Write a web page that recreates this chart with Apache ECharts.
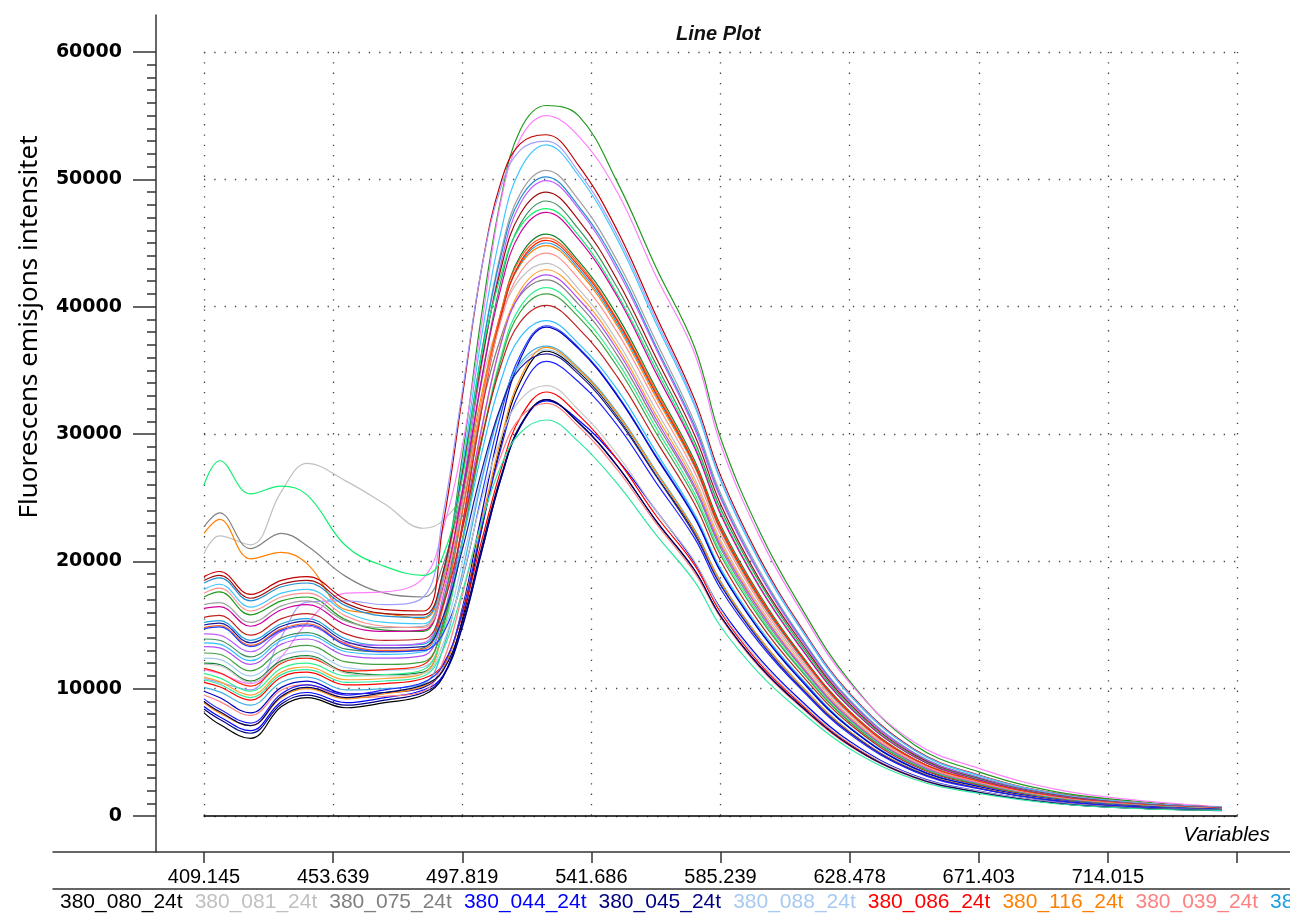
<!DOCTYPE html>
<html>
<head>
    <meta charset="utf-8">
    <title>Line Plot</title>
    <script src="https://cdn.jsdelivr.net/npm/echarts@6.0.0/dist/echarts.min.js"></script>
    <style>
        html, body { margin: 0; padding: 0; background: #fff; }
    </style>
</head>
<body>
    <div id="container" style="width: 1290px;height:917px;"></div>
    <script type="text/javascript">
        // variable position (10 units = one labelled tick step)
        var xs = [0, 1.2, 3.6, 6, 8, 11, 14, 17, 18.5, 20, 21.5, 23, 24.5, 26.5, 29, 32, 35, 38, 40, 43, 46, 50, 55, 60, 66, 72, 78.8];
        var tickLabels = ['409.145', '453.639', '497.819', '541.686', '585.239', '628.478', '671.403', '714.015', ''];
        var yTicks = [0, 10000, 20000, 30000, 40000, 50000, 60000];

        var names = ['380_080_24t', '380_081_24t', '380_075_24t', '380_044_24t', '380_045_24t', '380_088_24t',
            '380_086_24t', '380_116_24t', '380_039_24t', '380_087_24t',
            '380_052_24t', '380_041_24t', '380_077_24t', '380_090_24t', '380_047_24t', '380_083_24t', '380_058_24t',
            '380_112_24t', '380_061_24t', '380_094_24t', '380_036_24t', '380_070_24t', '380_049_24t', '380_104_24t',
            '380_066_24t', '380_085_24t', '380_043_24t', '380_119_24t', '380_072_24t', '380_057_24t', '380_098_24t',
            '380_038_24t', '380_063_24t', '380_109_24t', '380_050_24t', '380_079_24t', '380_091_24t', '380_046_24t',
            '380_068_24t', '380_101_24t', '380_055_24t'];
        var colors = ['#000000', '#c0c0c0', '#808080', '#0000ff', '#000080', '#a6caf0', '#ff0000', '#ff8000', '#ff8080', '#1a9fe0',
            '#1f9a1f', '#ff80ff', '#c00000', '#a0a0ff', '#40c8ff', '#a0a0a0', '#2090d0', '#c060ff', '#a01010', '#409060',
            '#10f070', '#d000a0', '#108030', '#ff6020', '#ff2000', '#ff9090', '#ffa030', '#b050f0', '#30f090', '#40a040',
            '#c02020', '#30c0ff', '#2040ff', '#0000c0', '#40b0e0', '#ff9010', '#1a1a9a', '#2020ff', '#c8c8c8', '#000060',
            '#30e8a0'];

        var v01 = [8100,7200,6100,8600,9300,8500,8900,9500,10900,15400,22500,29200,34100,36500,34900,31400,26800,22300,18250,13900,10400,6600,3580,2190,1200,730,470];
        var v02 = [20600,22000,21300,25500,27700,26300,24500,22600,23200,25500,34000,39200,42200,43400,41400,37300,31900,26500,21700,16500,12400,7800,4250,2600,1430,870,560];
        var v03 = [22700,23800,21000,22200,21200,18800,17500,17200,19700,25400,32100,37600,40900,42100,40200,36200,30900,25700,21050,16000,12000,7580,4130,2530,1390,840,550];
        var v04 = [8600,7800,6700,9000,9700,8900,9300,9900,11000,14900,20800,26500,30600,32600,31100,28000,24000,19900,16300,12400,9290,5870,3190,1960,1080,650,420];
        var v05 = [8400,7600,6500,8800,9500,8700,9100,9700,10900,14800,20700,26500,30600,32700,30900,27500,23200,19300,15700,11800,8830,5560,3040,1860,1010,620,460];
        var v06 = [12400,12300,11000,12550,12950,11650,11450,11700,14200,19900,26600,32100,35400,36600,35000,31500,26900,22400,18300,13900,10430,6590,3590,2200,1210,730,480];
        var v07 = [10500,10150,9100,10900,11300,10300,10400,10800,11900,15800,21600,27200,31300,33300,31500,28000,23600,19700,16000,12000,8990,5660,3100,1900,1030,630,470];
        var v08 = [22200,23300,20200,20700,19800,16200,15900,15500,18400,25200,33100,39500,43300,44800,42800,38500,32900,27400,22400,17000,12800,8060,4390,2690,1480,900,580];
        var v09 = [9500,9000,7900,9900,10300,9300,9400,9800,12100,17300,23400,28300,31300,32400,30600,27200,23000,19100,15600,11700,8750,5510,3010,1850,1000,620,450];
        var v10 = [15200,15350,13800,15100,15500,13900,13400,13500,16700,23900,32400,39300,43400,45000,43000,38700,33100,27500,22500,17100,12800,8100,4410,2700,1490,900,590];
        var v11 = [17200,17600,15800,16900,17200,15400,14600,14500,18700,28200,39400,48500,53900,55800,55000,49800,43100,36800,29700,22400,16800,10600,5600,3470,1900,1180,670];
        var v12 = [11500,11200,10400,12500,15200,17500,17600,18700,22500,29000,38600,48300,53200,55000,53400,49000,42400,36300,29200,22000,16500,10450,5800,3740,2090,1270,720];
        var v13 = [18800,19200,17400,18500,18800,17000,16200,16100,22800,32900,43000,49800,52800,53500,51100,46000,39300,32700,26750,20300,15200,9630,5240,3210,1770,1070,700];
        var v14 = [10800,10500,9900,14100,16800,16900,16600,17200,23600,33300,43000,49400,52300,53000,50600,45600,39000,32400,26500,20100,15100,9540,5190,3180,1750,1060,690];
        var v15 = [17800,18200,16400,17500,17800,16000,15200,15100,18900,27500,37700,45900,50800,52700,50300,45300,38700,32200,26350,20000,15000,9490,5160,3160,1740,1050,690];
        var v16 = [16600,16750,15200,16500,16900,15300,14800,14900,18500,26700,36400,44300,48900,50700,48400,43600,37300,30900,25350,19300,14400,9130,4970,3040,1670,1010,660];
        var v17 = [18300,18700,16900,18000,18300,16500,15700,15600,19100,27000,36400,44000,48500,50200,47900,43200,36900,30600,25100,19100,14300,9040,4920,3010,1660,1000,650];
        var v18 = [14300,14200,12900,14500,14900,13600,13400,13600,17200,25600,35400,43400,48100,49900,47700,42900,36700,30400,24950,19000,14200,8980,4890,2990,1650,1000,650];
        var v19 = [18500,18900,17100,18200,18500,16700,15900,15800,19100,26800,35700,43000,47300,49000,46800,42100,36000,29900,24500,18600,14000,8820,4800,2940,1620,980,640];
        var v20 = [13900,13800,12500,14000,14400,13100,12900,13200,16700,24800,34300,42000,46500,48300,46100,41500,35500,29400,24150,18400,13800,8690,4730,2900,1590,970,630];
        var v21 = [26000,27900,25300,25900,25200,21200,19600,18900,20400,26500,36200,42500,46300,47700,45600,41000,35100,29100,23850,18100,13600,8590,4670,2860,1570,950,620];
        var v22 = [16300,16450,14900,16200,16600,15000,14500,14600,17900,25400,34300,41500,45800,47400,45300,40800,34800,28900,23700,18000,13500,8530,4650,2840,1560,950,620];
        var v23 = [12000,11900,10600,12200,12600,11300,11100,11300,14700,22700,31900,39500,44000,45700,43600,39300,33600,27900,22850,17400,13000,8230,4480,2740,1510,910,590];
        var v24 = [14800,14950,13400,14700,15100,13500,13000,13100,16300,23800,32500,39600,43800,45400,43400,39000,33400,27700,22700,17300,12900,8170,4450,2720,1500,910,590];
        var v25 = [11600,11250,10200,12000,12400,11400,11500,11900,15200,22900,31900,39200,43500,45200,43200,38900,33200,27600,22600,17200,12900,8140,4430,2710,1490,900,590];
        var v26 = [17500,17900,16100,17200,17500,15700,14900,14800,17700,24500,32400,38900,42700,44200,42200,38000,32500,27000,22100,16800,12600,7960,4330,2650,1460,880,570];
        var v27 = [10900,10550,9500,11300,11700,10700,10800,11200,14400,21700,30200,37200,41300,42900,41000,36900,31500,26200,21450,16300,12200,7720,4200,2570,1420,860,560];
        var v28 = [13300,13200,11900,13500,13900,12600,12400,12600,15600,22500,30500,37100,41000,42500,40600,36600,31200,25900,21250,16200,12100,7650,4170,2550,1400,850,550];
        var v29 = [11200,10850,9800,11600,12000,11000,11100,11500,14500,21400,29500,36100,40000,41500,39600,35700,30500,25300,20750,15800,11800,7470,4070,2490,1370,830,540];
        var v30 = [12800,12700,11400,13000,13400,12100,11900,12100,15000,21600,29400,35800,39600,41000,39200,35300,30100,25000,20500,15600,11700,7380,4020,2460,1350,820,530];
        var v31 = [15600,15750,14200,15500,15900,14300,13800,13900,16500,22500,29600,35400,38800,40100,38300,34500,29500,24500,20050,15200,11400,7220,3930,2410,1320,800,520];
        var v32 = [13600,13500,12200,13800,14200,12900,12700,12900,15500,21500,28500,34200,37600,38900,37100,33500,28600,23700,19450,14800,11100,7000,3810,2330,1280,780,510];
        var v33 = [14700,14850,13300,14600,15000,13400,12900,13000,14300,18600,25200,31600,36200,38500,36800,33100,28300,23500,19250,14600,11000,6930,3770,2310,1270,770,500];
        var v34 = [9800,9300,8100,10100,10600,9600,9700,10100,11500,16300,23700,30800,35900,38400,36700,33000,28200,23400,19200,14600,10900,6910,3760,2300,1270,770,500];
        var v35 = [10100,9750,8700,10500,10900,9900,10000,10400,13100,19100,26300,32100,35600,36900,35200,31700,27100,22500,18450,14000,10500,6640,3620,2210,1220,740,480];
        var v36 = [8900,8100,7100,9300,10000,9200,9600,10200,11500,16100,23000,29600,34400,36800,35100,31600,27000,22400,18400,14000,10500,6620,3610,2210,1210,740,480];
        var v37 = [15000,15150,13600,14900,15300,13700,13200,13300,15600,20900,27100,32200,35200,36300,34700,31200,26700,22100,18150,13800,10300,6530,3560,2180,1200,730,470];
        var v38 = [9200,8400,7300,9600,10300,9500,9900,10500,11800,16000,22600,28900,33400,35700,34100,30700,26200,21800,17850,13600,10200,6430,3500,2140,1180,710,460];
        var v39 = [11900,11800,10500,12100,12500,11200,11000,11200,13500,18700,24800,29700,32700,33800,31900,28400,24000,20000,16200,12200,9130,5750,3140,1930,1050,640,470];
        var v40 = [9000,8200,7100,9400,10100,9300,9700,10300,11400,15200,21100,26700,30700,32700,30900,27500,23200,19300,15700,11800,8830,5560,3040,1860,1010,620,460];
        var v41 = [10700,10350,9300,11100,11500,10500,10600,11000,13000,17600,23100,27500,30100,31100,29400,26100,22100,18400,14900,11200,8400,5290,2890,1770,960,590,440];

        var values = [v01, v02, v03, v04, v05, v06, v07, v08, v09, v10, v11, v12, v13, v14, v15, v16, v17, v18, v19, v20,
            v21, v22, v23, v24, v25, v26, v27, v28, v29, v30, v31, v32, v33, v34, v35, v36, v37, v38, v39, v40, v41];

        var myChart = echarts.init(document.getElementById('container'));

        var dotted = { color: '#444', width: 1.3, type: [1.3, 9] };
        var series = values.map(function (vals, i) {
            return {
                name: names[i],
                type: 'line',
                xAxisIndex: 0,
                yAxisIndex: 0,
                showSymbol: false,
                smooth: 0.4,
                lineStyle: { width: 1.2, color: colors[i] },
                itemStyle: { color: colors[i] },
                data: vals.map(function (v, j) { return [xs[j], v]; })
            };
        });

        var option = {
            backgroundColor: '#fff',
            animation: false,
            title: {
                text: 'Line Plot',
                left: 676,
                top: 24,
                padding: 0,
                textStyle: { fontFamily: 'Liberation Sans', fontSize: 20, fontStyle: 'italic', fontWeight: 'bold', color: '#111' }
            },
            legend: {
                left: 54,
                top: 892,
                width: 8000,
                orient: 'horizontal',
                itemWidth: 0,
                itemHeight: 0,
                itemGap: 6,
                padding: 0,
                selectedMode: false,
                textStyle: { fontFamily: 'Liberation Sans', fontSize: 21 },
                data: names.map(function (n, i) { return { name: n, textStyle: { color: colors[i] } }; })
            },
            graphic: [{
                type: 'text',
                x: 30,
                y: 327,
                rotation: Math.PI / 2,
                style: {
                    text: 'Fluorescens emisjons intensitet',
                    font: '26px "Noto Sans"',
                    fill: '#000',
                    align: 'center',
                    verticalAlign: 'middle',
                    textAlign: 'center',
                    textVerticalAlign: 'middle'
                }
            }],
            grid: [
                { left: 204, right: 53, top: 52, bottom: 101, outerBoundsMode: 'none' },
                { left: 156, right: 53, top: 15, bottom: 65, outerBoundsMode: 'none' },
                { left: 53, right: 0, top: 15, bottom: 65, outerBoundsMode: 'none' }
            ],
            xAxis: [
                {   // zero line + vertical dotted grid
                    gridIndex: 0, type: 'value', min: 0, max: 80, interval: 10,
                    axisLine: { show: true, onZero: false, lineStyle: { color: '#000', width: 1.5 } },
                    axisTick: { show: false }, axisLabel: { show: false },
                    splitLine: { show: true, lineStyle: dotted },
                    name: 'Variables', nameLocation: 'end', nameGap: 33,
                    nameTextStyle: { fontFamily: 'Liberation Sans', fontSize: 21, fontStyle: 'italic', color: '#000',
                        align: 'right', verticalAlign: 'top', padding: [9, 0, 0, 0] }
                },
                {   // tick labels below
                    gridIndex: 0, type: 'value', min: 0, max: 80, interval: 10, position: 'bottom', offset: 36,
                    axisLine: { show: false, onZero: false },
                    axisTick: { show: true, length: 11, lineStyle: { color: '#333', width: 1.5 } },
                    axisLabel: {
                        margin: 15, color: '#000', fontFamily: 'Liberation Sans', fontSize: 20,
                        formatter: function (v) { return tickLabels[Math.round(v / 10)] || ''; }
                    },
                    splitLine: { show: false }
                },
                { gridIndex: 1, type: 'value', show: false },
                {   // long base line
                    gridIndex: 2, type: 'value', min: 0, max: 1, position: 'bottom',
                    axisLine: { show: true, onZero: false, lineStyle: { color: '#333', width: 1.5 } },
                    axisTick: { show: false }, axisLabel: { show: false }, splitLine: { show: false }
                },
                {   // line above legend
                    gridIndex: 2, type: 'value', min: 0, max: 1, position: 'bottom', offset: 37,
                    axisLine: { show: true, onZero: false, lineStyle: { color: '#333', width: 1.5 } },
                    axisTick: { show: false }, axisLabel: { show: false }, splitLine: { show: false }
                }
            ],
            yAxis: [
                {   // horizontal dotted grid
                    gridIndex: 0, type: 'value', min: yTicks[0], max: yTicks[yTicks.length - 1], interval: 10000,
                    axisLine: { show: false }, axisTick: { show: false }, axisLabel: { show: false },
                    splitLine: { show: true, lineStyle: dotted }
                },
                {   // labels and ticks on the outer axis
                    gridIndex: 0, type: 'value', min: yTicks[0], max: yTicks[yTicks.length - 1], interval: 10000,
                    position: 'left', offset: 48,
                    axisLine: { show: false, onZero: false },
                    axisTick: { show: true, length: 23, lineStyle: { color: '#333', width: 1.5 } },
                    minorTick: { show: true, splitNumber: 10, length: 9, lineStyle: { color: '#333', width: 1.5 } },
                    axisLabel: {
                        margin: 34, color: '#000', fontFamily: 'DejaVu Sans', fontSize: 19, fontWeight: 'bold',
                        formatter: function (v) { return String(v); }
                    },
                    splitLine: { show: false }
                },
                {   // y axis line running past both ends
                    gridIndex: 1, type: 'value', min: 0, max: 1, position: 'left',
                    axisLine: { show: true, onZero: false, lineStyle: { color: '#333', width: 1.5 } },
                    axisTick: { show: false }, axisLabel: { show: false }, splitLine: { show: false }
                },
                { gridIndex: 2, type: 'value', show: false }
            ],
            series: series
        };

        myChart.setOption(option);
    </script>
</body>
</html>
